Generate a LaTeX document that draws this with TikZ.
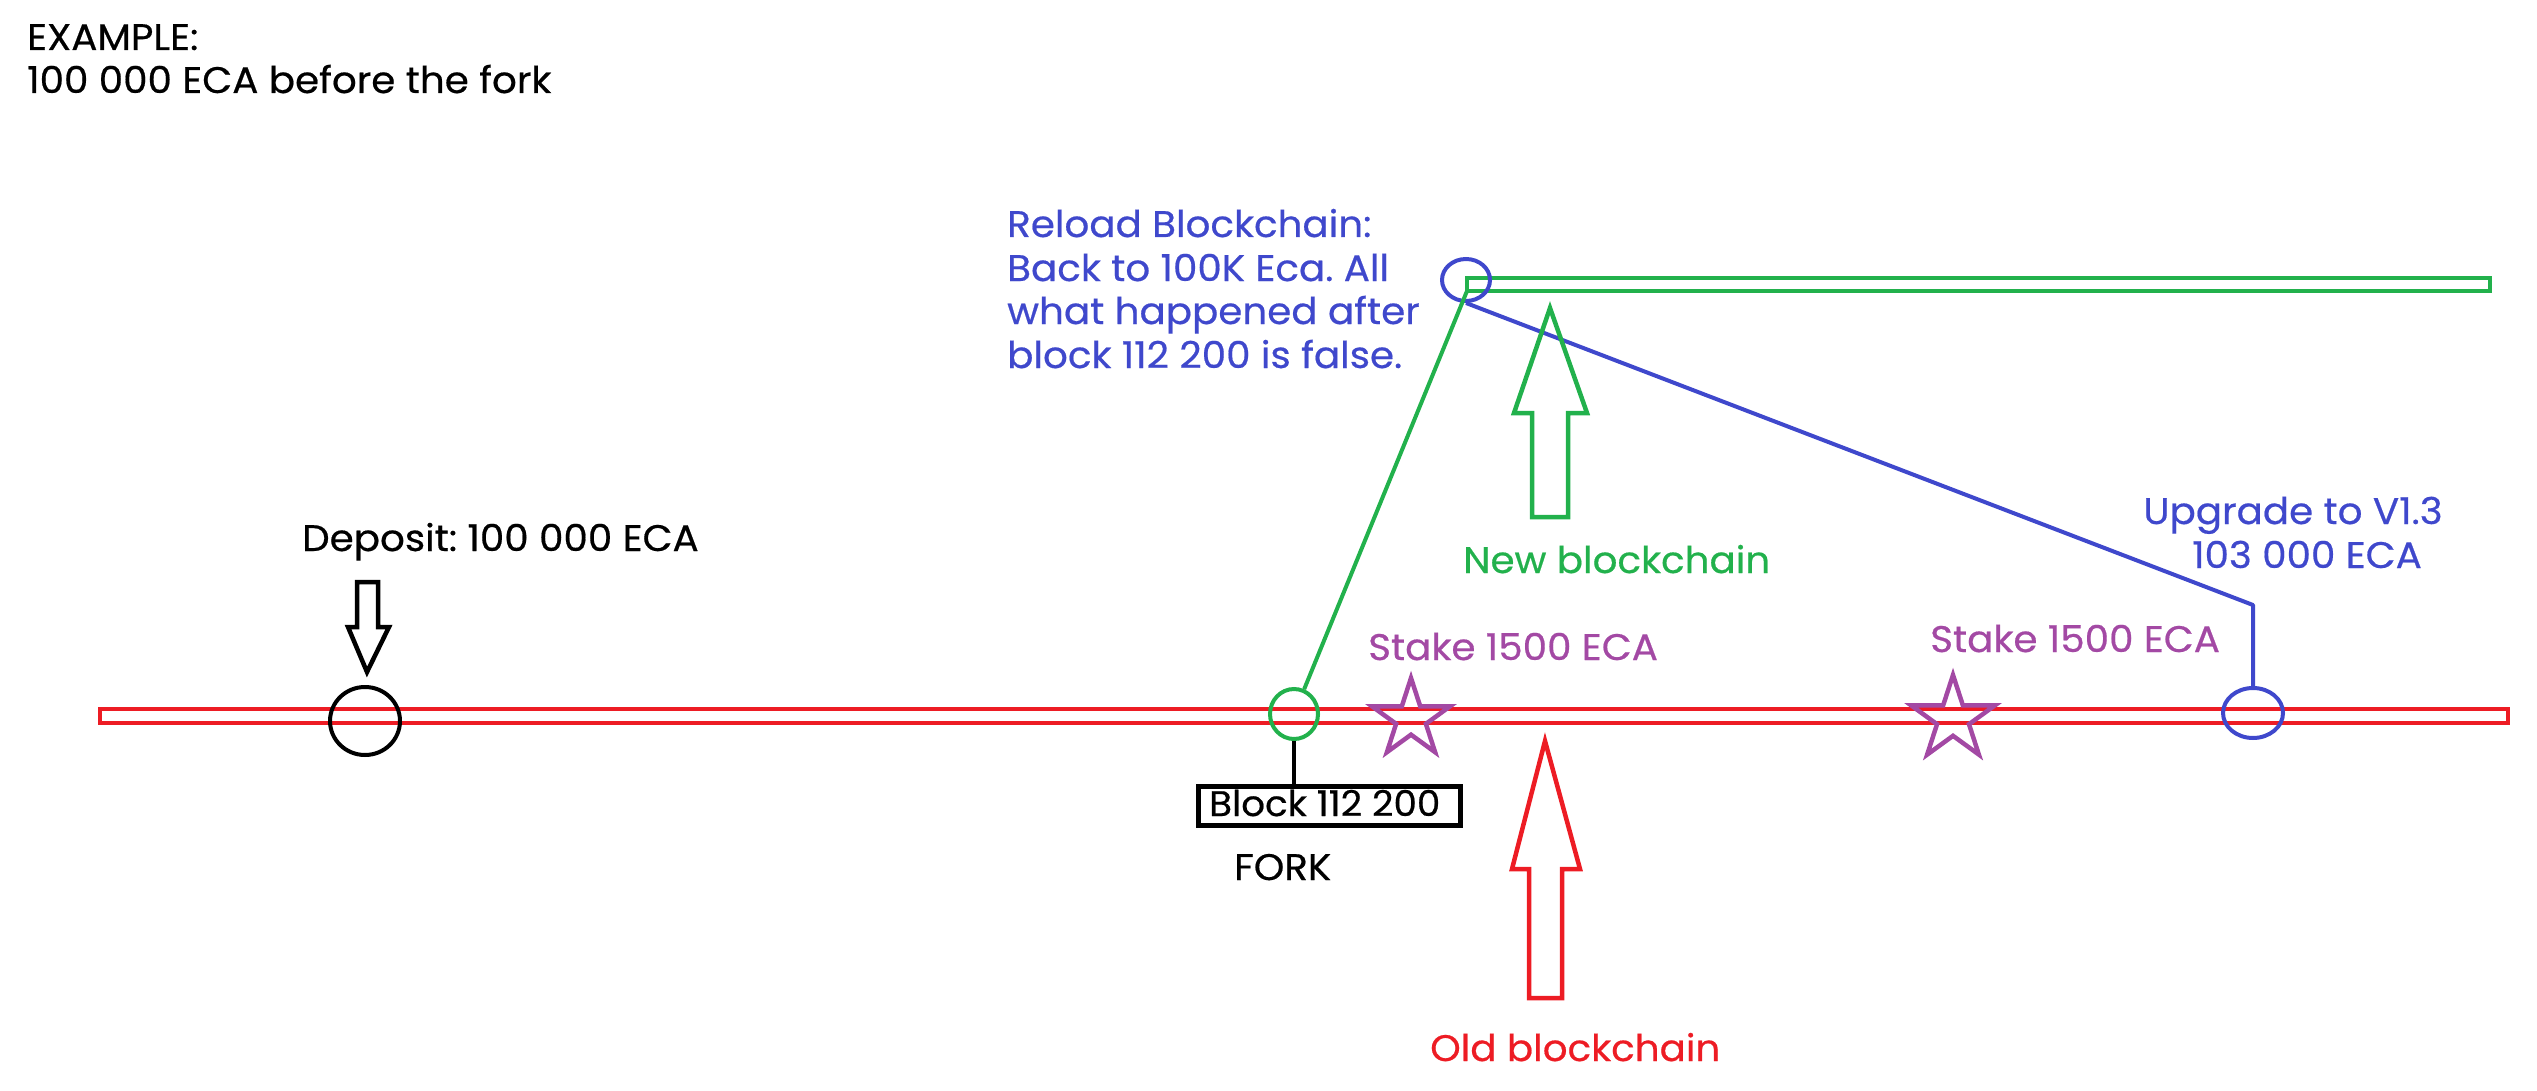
\documentclass[tikz,border=0pt]{standalone}
\usepackage{fontspec}
\setmainfont{Poppins}[FakeStretch=1.05, FakeBold=0.5]
\usetikzlibrary{shapes.geometric}
\definecolor{pred}{HTML}{ED1C24}
\definecolor{pgreen}{HTML}{22B14C}
\definecolor{pblue}{HTML}{3F48CC}
\definecolor{ppurple}{HTML}{A349A4}
\frenchspacing
\tikzset{
  lbl/.style={anchor=base west, inner sep=0pt, font=\fontsize{37}{44}\selectfont},
  chain/.style={line width=4.5pt},
  ring/.style={ellipse, draw, line width=4pt, inner sep=0pt},
  stakestar/.style={star, star points=5, star point ratio=2.618, draw=ppurple, line width=4.5pt, inner sep=0pt},
  bigarrow/.style={line width=4.5pt, line join=miter},
}
\begin{document}
\begin{tikzpicture}[x=1pt,y=-1pt]
\useasboundingbox (0,0) rectangle (2537,1091);
% title
\node[lbl] (t1) at (27,50) {EXAMPLE:};
\node[lbl] (t2) at (27,93) {100 000 ECA before the fork};
% chains
\draw[chain, draw=pred] (100,709) rectangle (2508,723);
\draw[chain, draw=pgreen] (1467,278) rectangle (2490,291);
\coordinate (ncorner) at (1467,291);
% markers
\node[ring, draw=black, minimum width=70pt, minimum height=68pt] (dep) at (365,721) {};
\node[ring, draw=pgreen, minimum width=48pt, minimum height=50pt] (gfork) at (1294,714) {};
\node[ring, draw=pblue, minimum width=48pt, minimum height=42pt] (bup) at (1466,280) {};
\node[ring, draw=pblue, minimum width=60pt, minimum height=50pt] (bcirc) at (2253,713) {};
\node[stakestar, minimum size=82pt] (s1) at (1411,719) {};
\node[stakestar, minimum size=88pt] (s2) at (1953,719) {};
\coordinate (bend) at (2253,605);
% connectors
\draw[pgreen, line width=4pt] (gfork) -- (ncorner);
\draw[pblue, line width=4pt, line join=round] (bup.south) -- (bend) -- (bcirc);
\node[draw, line width=5pt, inner sep=0pt, minimum width=262pt, minimum height=39pt] (block) at (1329,805.5) {};
\node[lbl, font=\fontsize{35.5}{44}\selectfont] (blocktxt) at (1209,816) {Block 112 200};
\draw[line width=4pt] (gfork.south) -- (gfork.south |- block.north);
% big arrows
\draw[bigarrow, draw=black] (357,582) -- (378,582) -- (378,627) -- (389,627) -- (367,672) -- (348,627) -- (357,627) -- cycle;
\draw[bigarrow, draw=pred] (1529,998) -- (1562,998) -- (1562,869) -- (1580,869) -- (1545,741) -- (1512,869) -- (1529,869) -- cycle;
\draw[bigarrow, draw=pgreen] (1532,517) -- (1568,517) -- (1568,413) -- (1587,413) -- (1550,308) -- (1514,413) -- (1532,413) -- cycle;
% labels
\node[lbl] (deptxt) at (302,551) {Deposit: 100 000 ECA};
\node[lbl, text=pblue] (r1) at (1007,237) {Reload Blockchain:};
\node[lbl, text=pblue] (r2) at (1007,281) {Back to 100K Eca. All};
\node[lbl, text=pblue] (r3) at (1007,324) {what happened after};
\node[lbl, text=pblue] (r4) at (1007,368) {block 112 200 is false.};
\node[lbl, text=pgreen] (newtxt) at (1463,573) {New blockchain};
\node[lbl, text=ppurple] (st1) at (1368,660) {Stake 1500 ECA};
\node[lbl, text=ppurple] (st2) at (1930,652) {Stake 1500 ECA};
\node[lbl, anchor=base, text=pblue] (up1) at (2293,524) {Upgrade to V1.3};
\node[lbl, anchor=base, text=pblue] (up2) at (2307,568) {103 000 ECA};
\node[lbl] (fork) at (1234,880) {FORK};
\node[lbl, text=pred] (oldtxt) at (1430,1061) {Old blockchain};
\end{tikzpicture}
\end{document}
